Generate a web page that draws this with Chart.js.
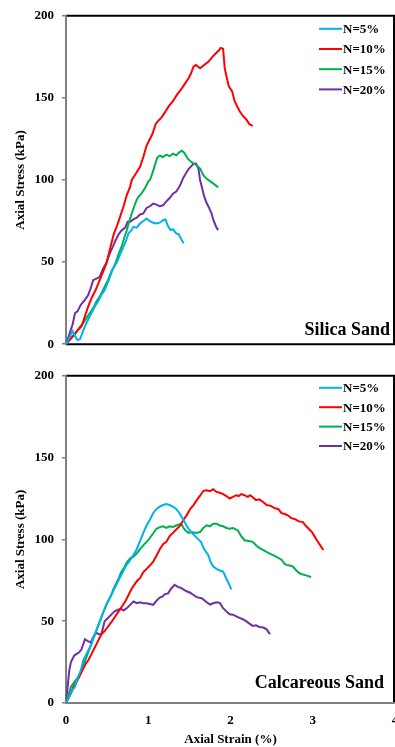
<!DOCTYPE html>
<html>
<head>
<meta charset="utf-8">
<script src="https://cdn.jsdelivr.net/npm/chart.js@4.4.1/dist/chart.umd.min.js"></script>
<style>
  html, body { margin: 0; padding: 0; background: #fff; overflow: hidden; }
  #wrap { position: relative; width: 395px; height: 747px; overflow: hidden; background: #fff; }
  canvas { position: absolute; left: 0; }
  #silica { top: 0; }
  #calc { top: 360px; }
</style>
</head>
<body>
<div id="wrap">
  <canvas id="silica" width="420" height="360"></canvas>
  <canvas id="calc" width="420" height="387"></canvas>
</div>
<script>
// series labels / colours
const seriesLabels = ["N=5%", "N=10%", "N=15%", "N=20%"];
const seriesColors = ["#00B0F0", "#FF0000", "#00B050", "#7030A0"];
const xTickValues = [0, 1, 2, 3, 4];
const yTickValues = [0, 50, 100, 150, 200];

// Silica sand: [axial strain %, axial stress kPa]
const silicaN5 = [[0,0],[0.04,4],[0.08,8],[0.11,5],[0.14,2.5],[0.17,3],[0.2,7],[0.24,12],[0.27,15],[0.31,19],[0.35,23],[0.39,26],[0.43,30],[0.47,33],[0.52,39],[0.57,46],[0.62,50],[0.66,55],[0.7,59.4],[0.73,63],[0.76,67.5],[0.79,69],[0.82,71.5],[0.86,71],[0.9,73.5],[0.94,75],[0.98,76.5],[1.02,75],[1.06,74],[1.1,73.5],[1.14,74],[1.18,75.5],[1.21,76],[1.24,72],[1.27,69.5],[1.3,70],[1.34,67.5],[1.37,67],[1.4,64],[1.43,61.5]];
const silicaN10 = [[0,0],[0.05,3],[0.1,6],[0.15,9],[0.19,11],[0.23,17],[0.27,23],[0.31,28],[0.36,33],[0.41,39],[0.45,44],[0.49,49],[0.52,55],[0.55,61],[0.58,67],[0.62,72],[0.66,78],[0.7,84],[0.74,91],[0.78,96],[0.8,100],[0.85,104],[0.9,108],[0.94,114],[0.98,121],[1.02,125],[1.05,128],[1.09,134],[1.12,136],[1.16,138],[1.2,141],[1.25,145],[1.3,148],[1.35,152],[1.41,156],[1.45,159],[1.49,162],[1.52,165],[1.55,169],[1.58,170],[1.63,168],[1.68,170],[1.73,172],[1.78,175],[1.82,177],[1.86,179],[1.88,180.5],[1.91,180],[1.93,168],[1.96,161],[1.98,157],[2.02,154],[2.05,148],[2.08,145],[2.11,142],[2.15,139],[2.19,137],[2.23,134],[2.27,133]];
const silicaN15 = [[0,0],[0.05,3],[0.11,6],[0.16,10],[0.21,13],[0.25,16],[0.29,19],[0.33,22],[0.37,26],[0.41,29],[0.46,34],[0.51,39],[0.55,44],[0.6,49],[0.64,55],[0.68,60],[0.71,65],[0.74,69.5],[0.77,75],[0.8,79.6],[0.83,84],[0.86,88],[0.88,89.6],[0.92,92],[0.96,95],[1.0,99],[1.02,100],[1.05,104],[1.08,109],[1.11,113.7],[1.14,114.8],[1.18,114],[1.22,115.5],[1.26,114.5],[1.3,116],[1.34,115],[1.38,117],[1.41,117.8],[1.44,116.5],[1.48,113],[1.53,110.7],[1.59,109],[1.63,107],[1.67,103],[1.71,100.7],[1.76,99],[1.8,97.5],[1.85,95.5]];
const silicaN20 = [[0,0],[0.04,6],[0.08,12],[0.11,19],[0.14,20],[0.18,24],[0.23,27],[0.27,30],[0.3,34],[0.33,39],[0.37,40],[0.41,41],[0.45,46],[0.49,49.4],[0.53,55],[0.57,59.4],[0.6,63],[0.64,67],[0.68,69.5],[0.72,71],[0.75,74.5],[0.78,74.5],[0.82,76],[0.86,77],[0.9,79],[0.94,79.6],[0.98,83],[1.02,84],[1.06,85.6],[1.1,85],[1.14,84],[1.18,84.6],[1.22,87],[1.26,89],[1.3,91.7],[1.34,93],[1.38,96],[1.43,101.7],[1.49,106.7],[1.55,109.8],[1.58,110],[1.61,107],[1.63,100],[1.65,96],[1.68,90],[1.71,86],[1.74,83],[1.77,79.6],[1.79,76],[1.81,73.5],[1.83,71],[1.85,69.5]];

// Calcareous sand: [axial strain %, axial stress kPa]
const calcN5 = [[0,0],[0.04,4],[0.08,8],[0.11,10],[0.14,15],[0.18,20],[0.21,26],[0.25,30],[0.28,33],[0.31,36],[0.35,42],[0.38,46],[0.41,50],[0.45,55],[0.49,60],[0.52,63],[0.55,66],[0.6,71],[0.65,76],[0.7,81],[0.73,84],[0.76,86],[0.79,88],[0.82,90.4],[0.86,94],[0.9,99],[0.94,104],[0.98,108.5],[1.02,112],[1.06,116],[1.1,118.6],[1.14,120],[1.18,121],[1.22,121.6],[1.26,121],[1.3,120],[1.34,118.6],[1.38,116],[1.42,112.6],[1.46,109],[1.49,106.5],[1.53,104],[1.57,102],[1.61,100],[1.64,98.5],[1.68,94],[1.73,90.4],[1.76,86],[1.79,83.4],[1.83,82],[1.87,81],[1.91,80.4],[1.94,77],[1.97,74],[2.01,69.5]];
const calcN10 = [[0,0],[0.03,3],[0.06,6],[0.09,10],[0.13,13],[0.17,17],[0.21,21],[0.24,24],[0.27,26],[0.31,30],[0.34,33],[0.37,36],[0.4,39],[0.43,42],[0.47,44],[0.5,46],[0.53,48],[0.56,50],[0.6,53],[0.64,56],[0.68,59],[0.72,62],[0.76,66],[0.8,70],[0.84,73],[0.87,75],[0.9,76.3],[0.94,80],[0.98,82],[1.02,84],[1.06,86.4],[1.1,90],[1.14,94],[1.18,97],[1.22,98.5],[1.26,102],[1.3,104],[1.34,106],[1.39,108.6],[1.43,112],[1.47,115],[1.51,118.6],[1.55,121],[1.59,124],[1.63,126.7],[1.67,129.7],[1.71,130],[1.75,129.5],[1.79,130.7],[1.83,129],[1.87,128.5],[1.91,127.7],[1.95,126.5],[1.99,125],[2.03,126],[2.07,127],[2.1,126.5],[2.13,127.7],[2.17,127],[2.21,126],[2.24,127],[2.27,125.7],[2.31,124],[2.35,124.5],[2.4,122.7],[2.44,121],[2.49,120.5],[2.54,119],[2.58,118.6],[2.62,116],[2.66,115.5],[2.7,114.6],[2.74,113],[2.78,112.5],[2.83,111],[2.88,110.6],[2.92,108],[2.96,106],[2.99,104.5],[3.02,102],[3.05,99.5],[3.09,96.5],[3.11,95],[3.13,93.5]];
const calcN15 = [[0,0],[0.03,5],[0.06,10],[0.09,12],[0.12,14],[0.15,16],[0.18,19],[0.21,23],[0.24,27],[0.27,31],[0.3,35],[0.33,40],[0.36,43],[0.39,47],[0.42,51],[0.45,55],[0.49,60],[0.52,63],[0.55,66],[0.58,70],[0.61,73],[0.64,76],[0.67,80],[0.71,83],[0.74,86],[0.78,88.4],[0.82,89.5],[0.86,91.4],[0.9,94],[0.95,97],[1.0,99.5],[1.05,103],[1.1,106.5],[1.14,107.5],[1.18,108],[1.22,107],[1.26,108],[1.3,107.6],[1.34,108.5],[1.4,109.6],[1.43,107],[1.45,105.5],[1.49,104],[1.53,104.5],[1.58,104],[1.63,104.5],[1.67,107],[1.71,108.6],[1.75,108],[1.79,109.6],[1.83,109.6],[1.87,108.5],[1.91,108],[1.95,107],[1.99,106.5],[2.03,107],[2.07,106],[2.09,105.5],[2.13,102],[2.17,99.5],[2.22,99],[2.27,98.5],[2.32,96],[2.36,94.5],[2.4,93.5],[2.45,92],[2.49,91],[2.52,90.4],[2.57,89],[2.62,87.6],[2.66,85],[2.68,84.4],[2.72,84],[2.76,83.4],[2.8,81],[2.84,79.3],[2.88,78.5],[2.92,78],[2.95,77.5],[2.98,77]];
const calcN20 = [[0,0],[0.02,10],[0.03,15],[0.04,20],[0.06,25],[0.1,29],[0.13,30],[0.16,31],[0.19,33],[0.21,36],[0.23,39],[0.26,38],[0.3,37],[0.33,40],[0.37,43],[0.4,42],[0.43,42],[0.45,46],[0.47,50],[0.51,52],[0.55,54],[0.59,56],[0.63,57],[0.67,57.5],[0.7,56.5],[0.74,58],[0.78,60],[0.82,62],[0.86,61],[0.9,61.5],[0.94,61],[0.98,61],[1.02,60.5],[1.06,60],[1.1,62.5],[1.14,64.4],[1.17,65],[1.2,66.4],[1.24,67],[1.28,70],[1.32,72.3],[1.36,71],[1.4,70.3],[1.44,69],[1.48,68],[1.51,67.4],[1.55,66],[1.58,65],[1.61,64.4],[1.65,64],[1.7,62],[1.75,60.2],[1.79,61],[1.83,61.5],[1.87,61.2],[1.91,58],[1.95,56],[1.99,54.2],[2.03,54],[2.07,53],[2.11,52],[2.15,51.2],[2.19,50],[2.23,48.5],[2.27,47.1],[2.31,47.5],[2.35,46.5],[2.4,46.1],[2.44,45],[2.46,43.5],[2.48,42.1]];

const SERIF = "'Liberation Serif', 'Times New Roman', serif";
Chart.defaults.font.family = SERIF;
Chart.defaults.color = "#000";

function makeDatasets(seriesList) {
  return seriesList.map(function (pts, i) {
    return {
      label: seriesLabels[i],
      data: pts.map(function (p) { return { x: p[0], y: p[1] }; }),
      borderColor: seriesColors[i],
      backgroundColor: seriesColors[i],
      borderWidth: 2,
      pointRadius: 0,
      showLine: true,
      fill: false,
      tension: 0,
    };
  });
}

// box around the plot: grey left axis, black top/right, bottom colour per panel
const framePlugin = {
  id: "frame",
  beforeDatasetsDraw(chart, args, opts) {
    const a = chart.chartArea;
    const ctx = chart.ctx;
    ctx.save();
    ctx.lineWidth = 2;
    ctx.strokeStyle = "#000";
    ctx.beginPath();
    ctx.moveTo(a.left, a.top); ctx.lineTo(a.right - 1, a.top); ctx.lineTo(a.right - 1, a.bottom);
    ctx.stroke();
    ctx.strokeStyle = opts.bottomColor;
    ctx.beginPath();
    ctx.moveTo(a.left, a.bottom); ctx.lineTo(a.right, a.bottom);
    ctx.stroke();
    ctx.strokeStyle = "#808080";
    ctx.beginPath();
    ctx.moveTo(a.left, a.top - 1); ctx.lineTo(a.left, a.bottom + 1);
    ctx.stroke();
    ctx.restore();
  },
};

// legend in the top-right corner + sand type note in the bottom-right corner
const notePlugin = {
  id: "note",
  afterDraw(chart, args, opts) {
    const a = chart.chartArea;
    const ctx = chart.ctx;
    ctx.save();
    chart.data.datasets.forEach(function (ds, i) {
      const y = a.top + opts.legendTop + i * opts.legendStep;
      ctx.strokeStyle = ds.borderColor;
      ctx.lineWidth = 2;
      ctx.beginPath();
      ctx.moveTo(a.right - 76, y);
      ctx.lineTo(a.right - 53, y);
      ctx.stroke();
      ctx.fillStyle = "#000";
      ctx.font = "bold 13px " + SERIF;
      ctx.textAlign = "left";
      ctx.textBaseline = "middle";
      ctx.fillText(ds.label, a.right - 52, y + 1);
    });
    ctx.font = "bold 18px " + SERIF;
    ctx.textAlign = "right";
    ctx.textBaseline = "middle";
    ctx.fillText(opts.text, a.right - opts.textRight, a.bottom - opts.textBottom);
    ctx.restore();
  },
};

function makeOptions(cfg) {
  return {
    responsive: false,
    animation: false,
    layout: { padding: { top: cfg.top, right: 25, bottom: 0, left: 0 } },
    plugins: {
      legend: { display: false },
      tooltip: { enabled: false },
      frame: { bottomColor: cfg.bottomColor },
      note: cfg.note,
    },
    scales: {
      x: {
        type: "linear",
        min: 0,
        max: 4,
        afterFit(s) { s.height = cfg.xHeight; },
        afterBuildTicks(s) { s.ticks = xTickValues.map(function (v) { return { value: v }; }); },
        grid: { display: cfg.showX, drawOnChartArea: false, tickLength: 4, color: "rgba(0,0,0,0)" },
        border: { display: false },
        ticks: { display: cfg.showX, padding: 6, color: "#000", font: { size: 13, weight: "bold" } },
        title: { display: cfg.showX, text: "Axial Strain (%)", color: "#000", font: { size: 13, weight: "bold" }, padding: { top: 0, bottom: 0 } },
      },
      y: {
        type: "linear",
        min: 0,
        max: 200,
        afterFit(s) { s.width = 66; },
        afterBuildTicks(s) { s.ticks = yTickValues.map(function (v) { return { value: v }; }); },
        grid: { drawOnChartArea: false, tickLength: 4, color: "#808080", lineWidth: 1.5 },
        border: { display: false },
        ticks: { padding: 8, color: "#000", font: { size: 13, weight: "bold" } },
        title: { display: true, text: "Axial Stress (kPa)", color: "#000", font: { size: 13, weight: "bold" }, padding: { top: 13, bottom: 0 } },
      },
    },
  };
}

new Chart(document.getElementById("silica"), {
  type: "scatter",
  data: { datasets: makeDatasets([silicaN5, silicaN10, silicaN15, silicaN20]) },
  options: makeOptions({
    top: 13, xHeight: 15, showX: false, bottomColor: "#000",
    note: { legendTop: 13, legendStep: 20.2, text: "Silica Sand", textRight: 5, textBottom: 14 },
  }),
  plugins: [framePlugin, notePlugin],
});

new Chart(document.getElementById("calc"), {
  type: "scatter",
  data: { datasets: makeDatasets([calcN5, calcN10, calcN15, calcN20]) },
  options: makeOptions({
    top: 12, xHeight: 44, showX: true, bottomColor: "#808080",
    note: { legendTop: 12, legendStep: 19.4, text: "Calcareous Sand", textRight: 11, textBottom: 20 },
  }),
  plugins: [framePlugin, notePlugin],
});
</script>
</body>
</html>
